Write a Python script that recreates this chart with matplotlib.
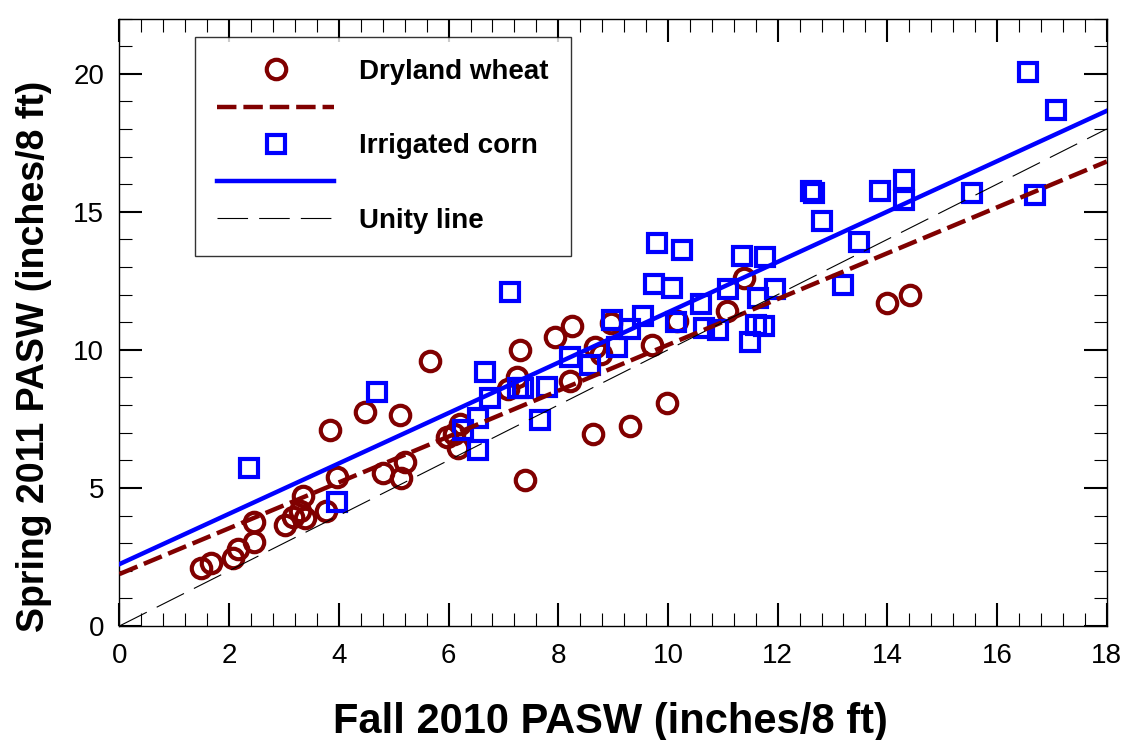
import matplotlib
matplotlib.use('Agg')
import matplotlib.pyplot as plt
from matplotlib.lines import Line2D
from matplotlib.ticker import MultipleLocator
import numpy as np

# Dryland wheat: fall 2010 vs spring 2011 PASW (inches / 8 ft)
wheat_fall = [1.49, 1.67, 2.07, 2.16, 2.46, 2.46, 3.01, 3.17, 3.30, 3.34,
              3.38, 3.77, 3.96, 3.83, 4.47, 5.11, 4.81, 5.14, 5.20, 5.66,
              5.97, 6.10, 6.20, 6.18, 7.09, 7.24, 7.30, 7.39, 7.94, 8.25,
              8.21, 8.64, 8.67, 8.78, 8.96, 9.30, 9.70, 9.98, 10.16, 11.07,
              11.38, 14.00, 14.42]
wheat_spring = [2.09, 2.27, 2.45, 2.80, 3.05, 3.78, 3.66, 3.95, 4.18, 4.69,
                3.91, 4.17, 5.38, 7.10, 7.76, 7.64, 5.55, 5.37, 5.95, 9.58,
                6.85, 6.95, 7.30, 6.45, 8.58, 9.03, 10.00, 5.29, 10.48, 10.85,
                8.88, 6.95, 10.12, 9.85, 10.97, 7.25, 10.18, 8.07, 11.05, 11.42,
                12.60, 11.69, 11.99]

# Irrigated corn
corn_fall = [2.36, 3.96, 4.69, 6.27, 6.54, 6.54, 6.66, 6.75, 7.12, 7.27,
             7.36, 7.67, 7.79, 8.21, 8.57, 8.98, 9.08, 9.31, 9.55, 9.74,
             9.80, 10.07, 10.15, 10.25, 10.60, 10.65, 10.92, 11.10, 11.35, 11.50,
             11.60, 11.65, 11.75, 11.77, 11.95, 12.60, 12.66, 12.81, 13.20, 13.48,
             13.87, 14.30, 14.30, 15.55, 16.56, 16.70, 17.07]
corn_spring = [5.71, 4.50, 8.48, 7.10, 7.52, 6.38, 9.21, 8.25, 12.11, 8.61,
               8.61, 7.46, 8.67, 9.73, 9.46, 11.09, 10.12, 10.75, 11.21, 12.39,
               13.87, 12.24, 11.00, 13.62, 11.66, 10.80, 10.72, 12.20, 13.40, 10.27,
               10.90, 11.87, 10.85, 13.38, 12.20, 15.74, 15.68, 14.65, 12.36, 13.92,
               15.74, 16.16, 15.43, 15.68, 20.07, 15.62, 18.70]

# regression lines (intercept, slope)
wheat_fit = (1.88, 0.830)
corn_fit = (2.24, 0.912)
fit_range = [0, 18]

MAROON = '#800000'
BLUE = '#0000FF'

plt.rcParams['font.family'] = ['Liberation Sans', 'DejaVu Sans']
plt.rcParams['lines.scale_dashes'] = False

fig = plt.figure(figsize=(11.26, 7.40), dpi=100)
ax = fig.add_axes([0.1061, 0.1541, 0.8768, 0.8209])

xs = np.array(fit_range)

circ = dict(marker='o', ms=14, mfc='none', mec=MAROON, mew=3.0)
sq = dict(marker='s', ms=12.5, mfc='none', mec=BLUE, mew=3.0)

ax.plot(wheat_fall, wheat_spring, ls='none', zorder=3, **circ)
ax.plot(corn_fall, corn_spring, ls='none', zorder=3, **sq)
ax.plot(xs, wheat_fit[0] + wheat_fit[1] * xs, color=MAROON, lw=3.2,
        dashes=(14, 5), zorder=4)
ax.plot(xs, corn_fit[0] + corn_fit[1] * xs, color=BLUE, lw=3.2, zorder=4)
ax.plot(xs, xs, color='black', lw=0.8, dashes=(22, 8), zorder=4)

ax.set_xlim(0, 18)
ax.set_ylim(0, 22)
ax.xaxis.set_major_locator(MultipleLocator(2))
ax.xaxis.set_minor_locator(MultipleLocator(0.4))
ax.yaxis.set_major_locator(MultipleLocator(5))
ax.yaxis.set_minor_locator(MultipleLocator(1))
ax.tick_params(which='both', direction='in', top=True, right=True,
               colors='black')
ax.tick_params(which='major', length=16.5, width=1.5, labelsize=20)
ax.tick_params(which='minor', length=9.4, width=0.8)
ax.tick_params(axis='x', which='major', pad=12)
ax.tick_params(axis='y', which='major', pad=11)
for sp in ax.spines.values():
    sp.set_linewidth(1.0)

ax.set_xlabel("Fall 2010 PASW (inches/8 ft)", fontsize=30, fontweight='bold')
ax.set_ylabel("Spring 2011 PASW (inches/8 ft)", fontsize=27, fontweight='bold')
ax.xaxis.set_label_coords(0.497, -0.125)
ax.yaxis.set_label_coords(-0.068, 0.443)

handles = [
    Line2D([], [], ls='none', **circ),
    Line2D([], [], color=MAROON, lw=3.2, dashes=(14, 5)),
    Line2D([], [], ls='none', **sq),
    Line2D([], [], color=BLUE, lw=3.2),
    Line2D([], [], color='black', lw=0.8, dashes=(22, 8)),
]
labels = ["Dryland wheat", " ", "Irrigated corn", " ", "Unity line"]
leg = ax.legend(handles, labels, loc='upper left',
                bbox_to_anchor=(0.0765, 0.9696), borderaxespad=0,
                prop={'size': 20, 'weight': 'bold'}, handlelength=4.2,
                handletextpad=0.9, labelspacing=0.4, borderpad=0.8,
                fancybox=False, frameon=True)
leg.get_frame().set_edgecolor('black')
leg.get_frame().set_linewidth(1.0)

fig.savefig('out.png', dpi=100)
